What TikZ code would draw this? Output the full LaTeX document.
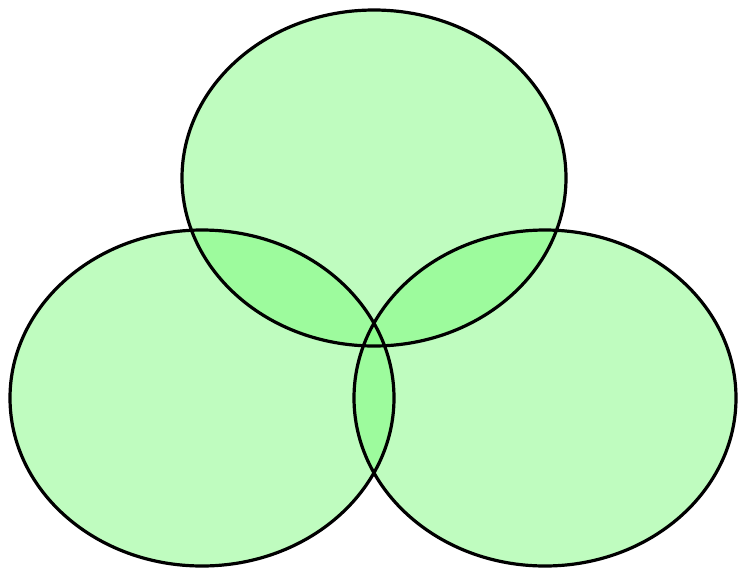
\documentclass[tikz,border=0pt]{standalone}
\begin{document}
\begin{tikzpicture}[x=1pt,y=-1pt,
  setfill/.style={fill={rgb,255:red,120;green,250;blue,120},fill opacity=0.47},
  setline/.style={draw=black,line width=3.2pt}]
\useasboundingbox (0,0) rectangle (739,571);
\fill[white] (0,0) rectangle (739,571);
\path[setfill] (374,178) ellipse [x radius=192,y radius=168];
\path[setfill] (202,398) ellipse [x radius=192,y radius=168];
\path[setfill] (545,398) ellipse [x radius=191,y radius=168];
\draw[setline] (374,178) ellipse [x radius=192,y radius=168];
\draw[setline] (202,398) ellipse [x radius=192,y radius=168];
\draw[setline] (545,398) ellipse [x radius=191,y radius=168];
\end{tikzpicture}
\end{document}
